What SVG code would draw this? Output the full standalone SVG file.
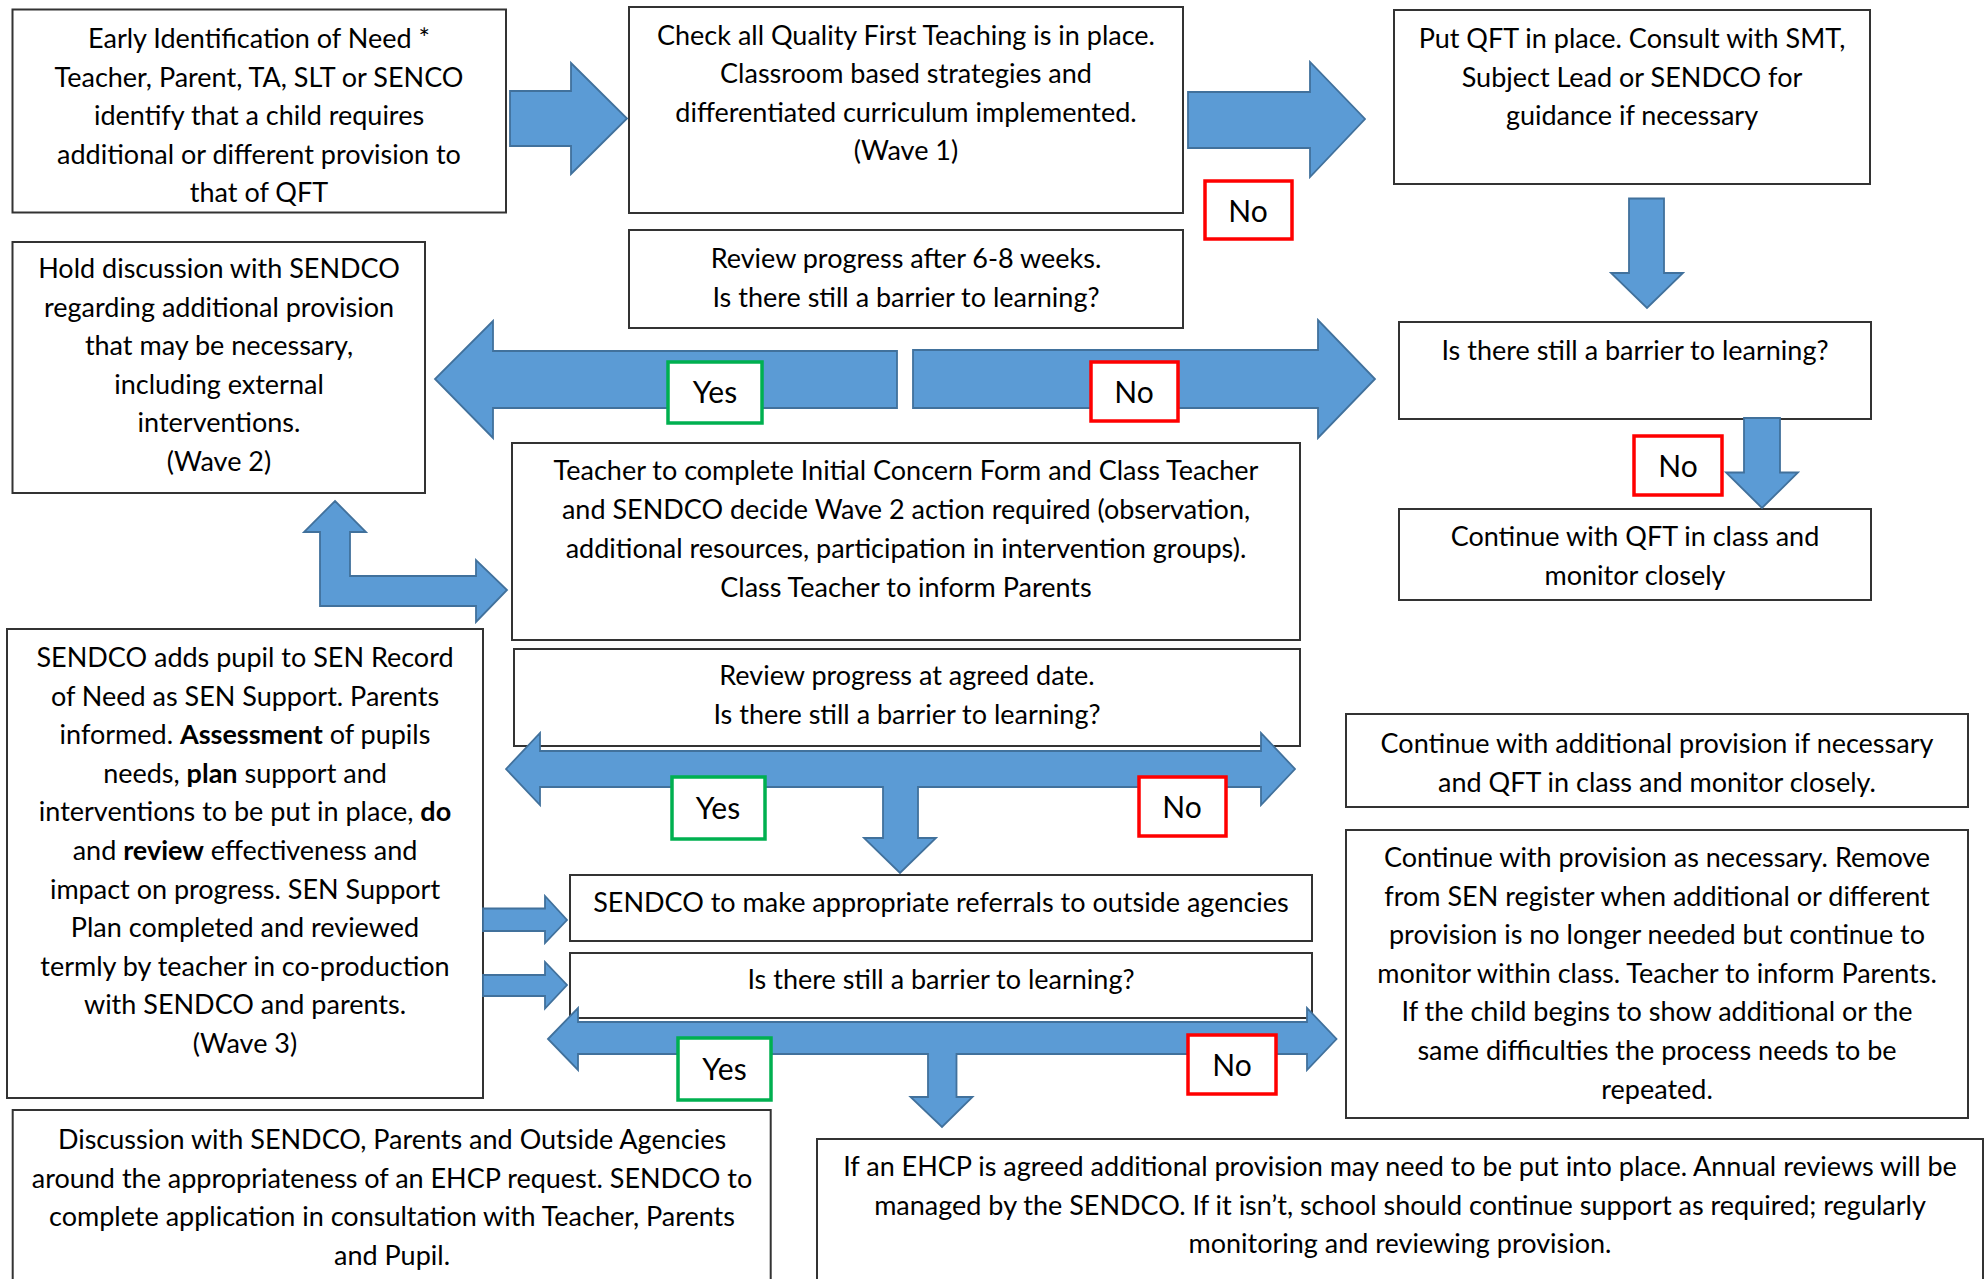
<svg xmlns="http://www.w3.org/2000/svg" width="1988" height="1279" viewBox="0 0 1988 1279">
<style>
.box{fill:#fff;stroke:#333;stroke-width:2}
.t{font-family:Lato,"Liberation Sans",sans-serif;font-size:27px;fill:#000;text-anchor:middle}
.arr{fill:#5B9BD5;stroke:#41719C;stroke-width:1.8;stroke-linejoin:miter}
.yes{fill:#fff;stroke:#00B050;stroke-width:3.5}
.no{fill:#fff;stroke:#FF0000;stroke-width:3.5}
.lbl{font-family:Lato,"Liberation Sans",sans-serif;font-size:30px;fill:#000;text-anchor:middle}
.b{font-weight:bold}
</style>
<rect width="1988" height="1279" fill="#fff"/>

<g id="n-early">
<rect class="box" x="12.5" y="9.5" width="493.5" height="203"/>
<text class="t"><tspan x="259" y="48">Early Identification of Need *</tspan><tspan x="259" y="86.5">Teacher, Parent, TA, SLT or SENCO</tspan><tspan x="259" y="125">identify that a child requires</tspan><tspan x="259" y="163.5">additional or different provision to</tspan><tspan x="259" y="202">that of QFT</tspan></text>
</g>

<g id="n-qft-check">
<rect class="box" x="629" y="7" width="554" height="206"/>
<text class="t"><tspan x="906" y="44.5">Check all Quality First Teaching is in place.</tspan><tspan x="906" y="83">Classroom based strategies and</tspan><tspan x="906" y="121.5">differentiated curriculum implemented.</tspan><tspan x="906" y="160">(Wave 1)</tspan></text>
</g>

<g id="n-put-qft">
<rect class="box" x="1394" y="10" width="476" height="174"/>
<text class="t"><tspan x="1632" y="48">Put QFT in place. Consult with SMT,</tspan><tspan x="1632" y="86.5">Subject Lead or SENDCO for</tspan><tspan x="1632" y="125">guidance if necessary</tspan></text>
</g>

<g id="n-review1">
<rect class="box" x="629" y="230" width="554" height="98"/>
<text class="t"><tspan x="906" y="268">Review progress after 6-8 weeks.</tspan><tspan x="906" y="306.5">Is there still a barrier to learning?</tspan></text>
</g>

<g id="n-hold">
<rect class="box" x="12.5" y="242" width="412.5" height="251"/>
<text class="t"><tspan x="219" y="278">Hold discussion with SENDCO</tspan><tspan x="219" y="316.5">regarding additional provision</tspan><tspan x="219" y="355">that may be necessary,</tspan><tspan x="219" y="393.5">including external</tspan><tspan x="219" y="432">interventions.</tspan><tspan x="219" y="470.5">(Wave 2)</tspan></text>
</g>

<g id="n-barrier-right">
<rect class="box" x="1399" y="322" width="472" height="97"/>
<text class="t"><tspan x="1635" y="360">Is there still a barrier to learning?</tspan></text>
</g>

<g id="n-continue-qft">
<rect class="box" x="1399" y="509" width="472" height="91"/>
<text class="t"><tspan x="1635" y="546">Continue with QFT in class and</tspan><tspan x="1635" y="584.5">monitor closely</tspan></text>
</g>

<g id="n-teacher">
<rect class="box" x="512" y="443" width="788" height="197"/>
<text class="t"><tspan x="906" y="480">Teacher to complete Initial Concern Form and Class Teacher</tspan><tspan x="906" y="519">and SENDCO decide Wave 2 action required (observation,</tspan><tspan x="906" y="558">additional resources, participation in intervention groups).</tspan><tspan x="906" y="597">Class Teacher to inform Parents</tspan></text>
</g>

<g id="n-review2">
<rect class="box" x="514" y="649" width="786" height="97"/>
<text class="t"><tspan x="907" y="685">Review progress at agreed date.</tspan><tspan x="907" y="723.5">Is there still a barrier to learning?</tspan></text>
</g>

<g id="n-sen-support">
<rect class="box" x="7" y="629" width="476" height="469"/>
<text class="t"><tspan x="245" y="667">SENDCO adds pupil to SEN Record</tspan><tspan x="245" y="705.6">of Need as SEN Support. Parents</tspan><tspan x="245" y="744.2">informed. <tspan class="b">Assessment</tspan> of pupils</tspan><tspan x="245" y="782.8">needs, <tspan class="b">plan</tspan> support and</tspan><tspan x="245" y="821.4">interventions to be put in place, <tspan class="b">do</tspan></tspan><tspan x="245" y="860">and <tspan class="b">review</tspan> effectiveness and</tspan><tspan x="245" y="898.6">impact on progress. SEN Support</tspan><tspan x="245" y="937.2">Plan completed and reviewed</tspan><tspan x="245" y="975.8">termly by teacher in co-production</tspan><tspan x="245" y="1014.4">with SENDCO and parents.</tspan><tspan x="245" y="1053">(Wave 3)</tspan></text>
</g>

<g id="n-referrals">
<rect class="box" x="570" y="875" width="742" height="66"/>
<text class="t"><tspan x="941" y="912">SENDCO to make appropriate referrals to outside agencies</tspan></text>
</g>

<g id="n-barrier3">
<rect class="box" x="570" y="953" width="742" height="65"/>
<text class="t"><tspan x="941" y="989">Is there still a barrier to learning?</tspan></text>
</g>

<g id="n-continue-additional">
<rect class="box" x="1346" y="714" width="622" height="93"/>
<text class="t"><tspan x="1657" y="753">Continue with additional provision if necessary</tspan><tspan x="1657" y="791.5">and QFT in class and monitor closely.</tspan></text>
</g>

<g id="n-continue-provision">
<rect class="box" x="1346" y="830" width="622" height="288"/>
<text class="t"><tspan x="1657" y="867">Continue with provision as necessary. Remove</tspan><tspan x="1657" y="905.6">from SEN register when additional or different</tspan><tspan x="1657" y="944.2">provision is no longer needed but continue to</tspan><tspan x="1657" y="982.8">monitor within class. Teacher to inform Parents.</tspan><tspan x="1657" y="1021.4">If the child begins to show additional or the</tspan><tspan x="1657" y="1060">same difficulties the process needs to be</tspan><tspan x="1657" y="1098.6">repeated.</tspan></text>
</g>

<g id="n-ehcp-discussion">
<rect class="box" x="12.7" y="1110" width="758" height="190"/>
<text class="t"><tspan x="392" y="1149">Discussion with SENDCO, Parents and Outside Agencies</tspan><tspan x="392" y="1187.5">around the appropriateness of an EHCP request. SENDCO to</tspan><tspan x="392" y="1226">complete application in consultation with Teacher, Parents</tspan><tspan x="392" y="1264.5">and Pupil.</tspan></text>
</g>

<g id="n-ehcp-agreed">
<rect class="box" x="817" y="1139" width="1166" height="160"/>
<text class="t"><tspan x="1400" y="1176">If an EHCP is agreed additional provision may need to be put into place. Annual reviews will be</tspan><tspan x="1400" y="1214.5">managed by the SENDCO. If it isn’t, school should continue support as required; regularly</tspan><tspan x="1400" y="1253">monitoring and reviewing provision.</tspan></text>
</g>

<g id="connectors">
<polygon class="arr" points="510,91 571,91 571,63 627,118.5 571,174 571,146 510,146"/>
<polygon class="arr" points="1188,92 1310,92 1310,62 1365,119 1310,177 1310,148 1188,148"/>
<polygon class="arr" points="897,351 493,351 493,321 435,379 493,438 493,408 897,408"/>
<polygon class="arr" points="913,350 1318,350 1318,320 1375,379 1318,438 1318,408 913,408"/>
<polygon class="arr" points="1629,198.5 1664,198.5 1664,273 1683,273 1647,308 1611,273 1629,273"/>
<polygon class="arr" points="1744,418 1780,418 1780,472.5 1798,472.5 1762,508 1726,472.5 1744,472.5"/>
<polygon class="arr" points="335,501 366,532 350,532 350,576 476,576 476,560 507,590 476,622 476,606 320,606 320,532 304,532"/>
<polygon class="arr" points="506,769 540,733 540,751 1261,751 1261,733 1295,769 1261,805 1261,787 918,787 918,838 936,838 900,873 864,838 883,838 883,787 540,787 540,805"/>
<polygon class="arr" points="483,908.5 545,908.5 545,896 567,920 545,943 545,931 483,931"/>
<polygon class="arr" points="483,975 545,975 545,962 567,985 545,1008.5 545,996 483,996"/>
<polygon class="arr" points="548,1039 578,1008 578,1022 1307,1022 1307,1008 1336.5,1039 1307,1070 1307,1054 956.5,1054 956.5,1097 972.5,1097 942,1127 910.5,1097 928,1097 928,1054 578,1054 578,1070"/>
</g>

<g id="labels">
<rect class="no" x="1205" y="181" width="87" height="58"/>
<text class="lbl" x="1248" y="222">No</text>
<rect class="yes" x="668" y="362" width="94" height="61"/>
<text class="lbl" x="715" y="403">Yes</text>
<rect class="no" x="1091" y="362" width="87" height="59"/>
<text class="lbl" x="1134" y="403">No</text>
<rect class="no" x="1634" y="436" width="88" height="59"/>
<text class="lbl" x="1678" y="477">No</text>
<rect class="yes" x="672" y="777" width="93" height="62"/>
<text class="lbl" x="718" y="819">Yes</text>
<rect class="no" x="1139" y="777" width="87" height="59"/>
<text class="lbl" x="1182" y="818">No</text>
<rect class="yes" x="678" y="1038" width="93" height="62"/>
<text class="lbl" x="724.5" y="1080">Yes</text>
<rect class="no" x="1188" y="1035" width="88" height="59"/>
<text class="lbl" x="1232" y="1076">No</text>
</g>
</svg>
